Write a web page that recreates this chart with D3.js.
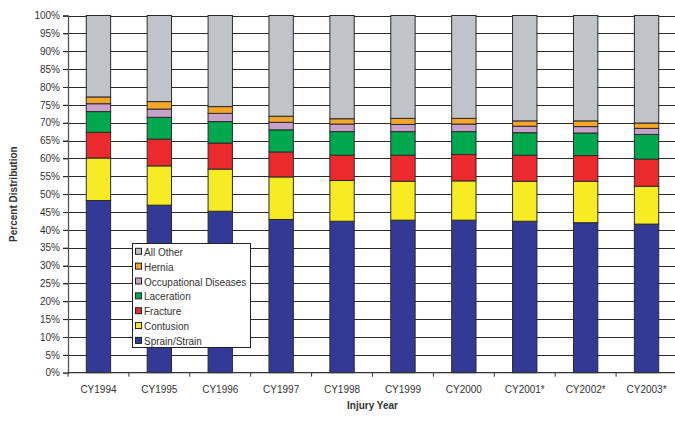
<!DOCTYPE html>
<html><head><meta charset="utf-8">
<script src="https://cdn.jsdelivr.net/npm/d3@7"></script>
<style>html,body{margin:0;padding:0;background:#fff;}svg{display:block;font-family:"Liberation Sans",Arial,sans-serif;}</style>
</head><body>
<script>
const years = ["CY1994","CY1995","CY1996","CY1997","CY1998","CY1999","CY2000","CY2001*","CY2002*","CY2003*"];
const seriesNames = ["Sprain/Strain","Contusion","Fracture","Laceration","Occupational Diseases","Hernia","All Other"];
const sprain     = [48.2, 46.9, 45.2, 42.9, 42.4, 42.7, 42.7, 42.4, 42.0, 41.6];
const contusion  = [11.9, 11.0, 11.8, 11.9, 11.4, 10.9, 11.0, 11.2, 11.6, 10.6];
const fracture   = [7.2, 7.5, 7.3, 7.0, 7.1, 7.3, 7.4, 7.3, 7.2, 7.6];
const laceration = [5.8, 6.1, 6.0, 6.2, 6.6, 6.6, 6.4, 6.3, 6.3, 6.9];
const occupational = [2.2, 2.3, 2.3, 2.1, 2.1, 2.0, 2.1, 1.8, 1.8, 1.7];
const hernia     = [1.9, 2.1, 1.9, 1.7, 1.5, 1.7, 1.6, 1.5, 1.6, 1.5];
const allOther   = [22.8, 24.1, 25.5, 28.2, 28.9, 28.8, 28.8, 29.5, 29.5, 30.1];
const yTicks = [0,5,10,15,20,25,30,35,40,45,50,55,60,65,70,75,80,85,90,95,100];
const colors = ["#333a96","#f7ec24","#ec2a2e","#00a84e","#c8a2cb","#f4a62a","#c0c3c8"];

const W = 675, H = 431;
const m = {left: 68, top: 15.5, right: 677, bottom: 372.7};
const svg = d3.select("body").append("svg").attr("width", W).attr("height", H);

const x = d3.scaleBand().domain(years).range([m.left, m.right]).paddingInner(0.6).paddingOuter(0.3);
const y = d3.scaleLinear().domain([0, 100]).range([m.bottom, m.top]);

const seriesArr = [sprain, contusion, fracture, laceration, occupational, hernia, allOther];
const table = years.map((yr, i) => {
  const o = {year: yr};
  seriesNames.forEach((s, k) => o[s] = seriesArr[k][i]);
  return o;
});
const stack = d3.stack().keys(seriesNames)(table);

// gridlines
svg.append("g").selectAll("line").data(yTicks.slice(1)).join("line")
  .attr("x1", m.left - 5).attr("x2", m.right)
  .attr("y1", d => Math.round(y(d)) + 0.5).attr("y2", d => Math.round(y(d)) + 0.5)
  .attr("stroke", "#2a2a2a").attr("stroke-width", 1);

// bars
svg.append("g").selectAll("g").data(stack).join("g")
  .attr("fill", (d, i) => colors[i])
  .selectAll("rect").data(d => d).join("rect")
  .attr("x", d => x(d.data.year))
  .attr("width", x.bandwidth())
  .attr("y", d => y(d[1]))
  .attr("height", d => y(d[0]) - y(d[1]))
  .attr("stroke", "#2a2a2a").attr("stroke-width", 1);

// y axis
const yAxis = svg.append("g").attr("transform", `translate(${m.left},0)`)
  .call(d3.axisLeft(y).tickValues(yTicks).tickFormat(d => d + "%").tickSize(5).tickPadding(3));
yAxis.select(".domain").attr("stroke", "#555").attr("stroke-width", 1.3);
yAxis.selectAll(".tick line").attr("stroke", "#2a2a2a");
yAxis.selectAll("text").attr("font-size", 10).attr("fill", "#333").attr("font-family", "Liberation Sans, Arial, sans-serif");

// x axis
const xb = d3.scaleLinear().domain([0, years.length]).range([m.left, m.right]);
svg.append("line").attr("x1", m.left).attr("x2", m.right)
  .attr("y1", y(0)).attr("y2", y(0)).attr("stroke", "#333").attr("stroke-width", 1.3);
svg.append("g").selectAll("line").data(d3.range(years.length + 1)).join("line")
  .attr("x1", d => xb(d)).attr("x2", d => xb(d))
  .attr("y1", y(0)).attr("y2", y(0) + 4).attr("stroke", "#333").attr("stroke-width", 1);
svg.append("g").selectAll("text").data(years).join("text")
  .attr("x", d => x(d) + x.bandwidth() / 2).attr("y", y(0) + 20)
  .attr("text-anchor", "middle").attr("font-size", 10).attr("fill", "#333").text(d => d);

// axis titles
svg.append("text").attr("x", (m.left + m.right) / 2).attr("y", 409)
  .attr("text-anchor", "middle").attr("font-size", 10).attr("font-weight", "bold").attr("fill", "#333").text("Injury Year");
svg.append("text").attr("transform", `translate(17,${(m.top + m.bottom) / 2}) rotate(-90)`)
  .attr("text-anchor", "middle").attr("font-size", 10).attr("font-weight", "bold").attr("fill", "#333").text("Percent Distribution");

// legend
const lg = svg.append("g");
lg.append("rect").attr("x", 132.5).attr("y", 243.5).attr("width", 118).attr("height", 104)
  .attr("fill", "#fff").attr("stroke", "#222").attr("stroke-width", 1);
const legendOrder = seriesNames.map((s, i) => ({name: s, color: colors[i]})).reverse();
const li = lg.selectAll("g").data(legendOrder).join("g")
  .attr("transform", (d, i) => `translate(0,${252.3 + i * 14.85})`);
li.append("rect").attr("x", 135.5).attr("y", -4).attr("width", 6).attr("height", 6)
  .attr("fill", d => d.color).attr("stroke", "#222").attr("stroke-width", 1);
li.append("text").attr("x", 144).attr("y", 0).attr("dy", "0.35em").attr("font-size", 10).attr("fill", "#333").text(d => d.name);
</script>
</body></html>
